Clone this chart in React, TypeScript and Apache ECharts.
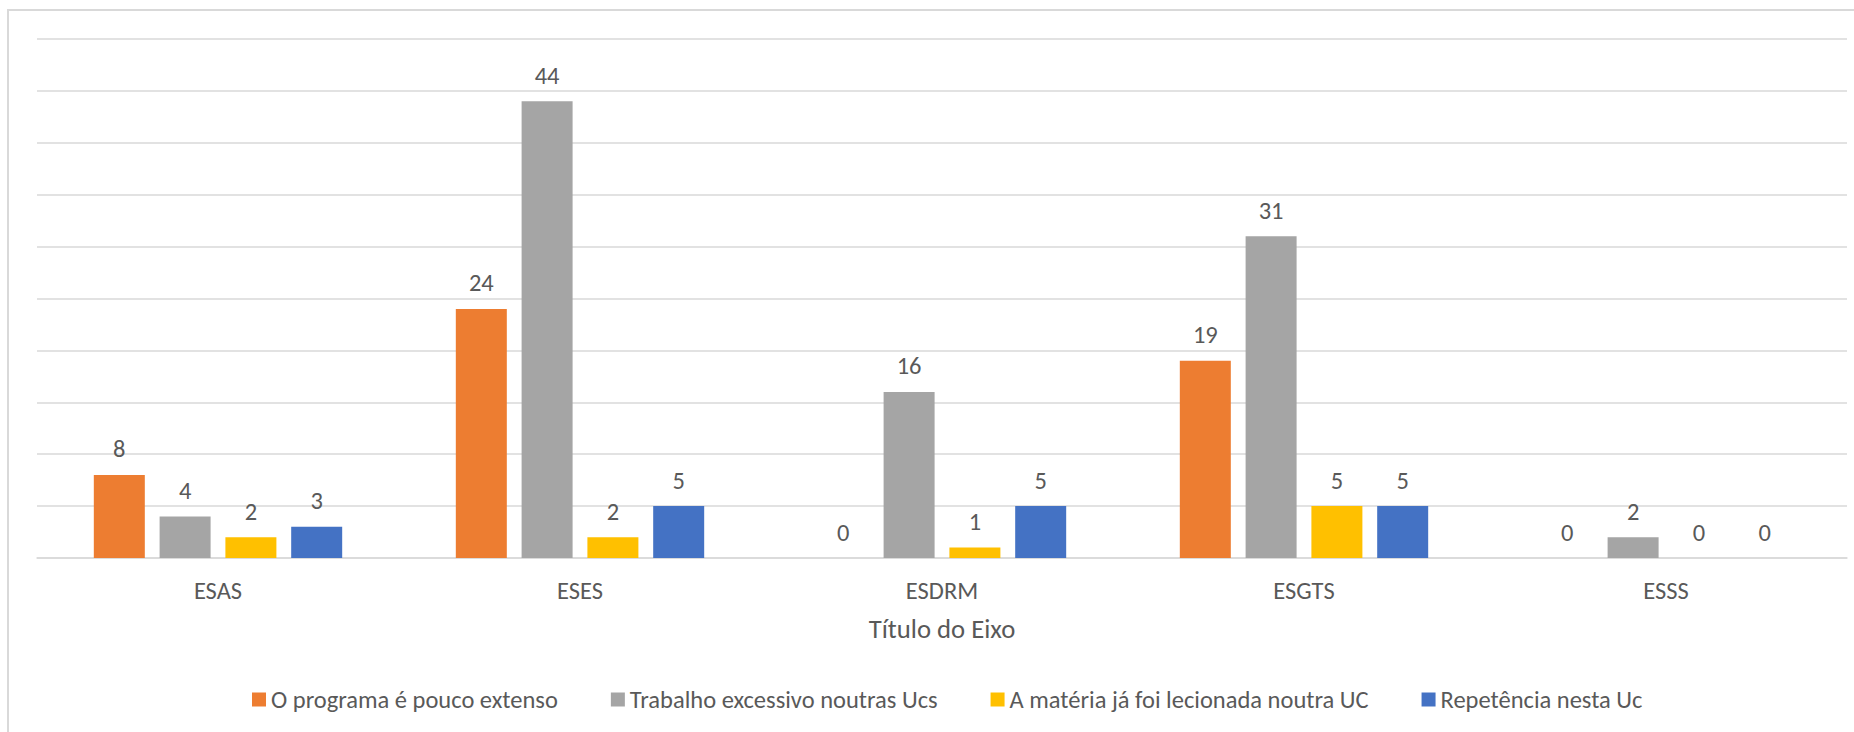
import React, { useEffect, useRef } from "react";
import * as echarts from "echarts";

const categories = ["ESAS", "ESES", "ESDRM", "ESGTS", "ESSS"];
const seriesNames = [
  "O programa é pouco extenso",
  "Trabalho excessivo noutras Ucs",
  "A matéria já foi lecionada noutra UC",
  "Repetência nesta Uc",
];
const programaValues = [8, 24, 0, 19, 0];
const trabalhoValues = [4, 44, 16, 31, 2];
const materiaValues = [2, 2, 1, 5, 0];
const repetenciaValues = [3, 5, 5, 5, 0];
const colors = ["#ED7D31", "#A5A5A5", "#FFC000", "#4472C4"];
const axisTitle = "Título do Eixo";

const FONT = "Calibri, Carlito, Lato, sans-serif";
const TEXT = "#595959";
const FS = 24.5;
const TITLE_FS = 26.7;

export default function App() {
  const ref = useRef<HTMLDivElement>(null);
  useEffect(() => {
    if (!ref.current) return;
    const chart = echarts.init(ref.current, null, { renderer: "svg" });
    const allValues = [programaValues, trabalhoValues, materiaValues, repetenciaValues];
    chart.setOption({
      animation: false,
      backgroundColor: "#ffffff",
      textStyle: { fontFamily: FONT, color: TEXT },
      graphic: [
        {
          type: "rect",
          shape: { x: 8, y: 10, width: 1900, height: 800 },
          style: { fill: "none", stroke: "#d9d9d9", lineWidth: 2 },
          silent: true,
        },
      ],
      legend: {
        left: 247,
        top: 682,
        itemWidth: 14,
        itemHeight: 14,
        itemGap: 53,
        icon: "rect",
        textStyle: { fontFamily: FONT, fontSize: FS, color: TEXT },
        data: seriesNames,
      },
      grid: { left: 37, right: 7, top: 39, height: 519, containLabel: false },
      xAxis: {
        type: "category",
        data: categories,
        axisLine: { lineStyle: { color: "#d9d9d9", width: 1.5 } },
        axisTick: { show: false },
        axisLabel: { fontFamily: FONT, fontSize: FS, color: TEXT, margin: 20 },
        name: axisTitle,
        nameLocation: "middle",
        nameGap: 57.5,
        nameTextStyle: { fontFamily: FONT, fontSize: TITLE_FS, color: TEXT },
      },
      yAxis: {
        type: "value",
        min: 0,
        max: 50,
        interval: 5,
        axisLabel: { show: false },
        axisLine: { show: false },
        axisTick: { show: false },
        splitLine: { lineStyle: { color: "#d9d9d9", width: 1.5 } },
      },
      series: seriesNames.map((name, i) => ({
        name,
        type: "bar",
        data: allValues[i],
        barWidth: 51,
        barGap: "29%",
        itemStyle: { color: colors[i] },
        label: {
          show: true,
          position: "top",
          distance: 13,
          fontFamily: FONT,
          fontSize: FS,
          color: TEXT,
        },
      })),
    });
    return () => chart.dispose();
  }, []);
  return (
    <div
      style={{
        position: "fixed",
        left: 0,
        top: 0,
        width: 1854,
        height: 732,
        overflow: "hidden",
        background: "#fff",
      }}
    >
      <div ref={ref} style={{ position: "absolute", left: 0, top: 0, width: 1854, height: 732 }} />
    </div>
  );
}
